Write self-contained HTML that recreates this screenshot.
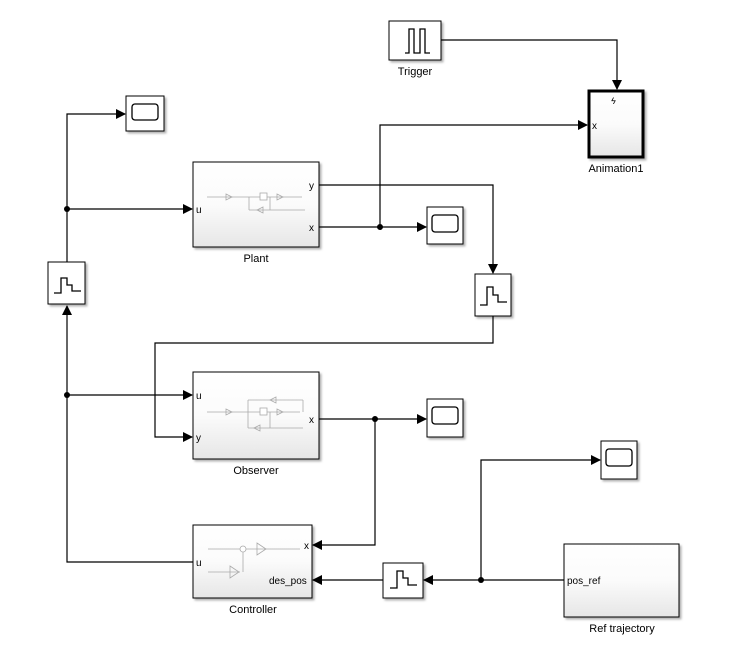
<!DOCTYPE html>
<html><head><meta charset="utf-8"><style>
html,body{margin:0;padding:0;background:#fff;}
svg{display:block;font-family:"Liberation Sans",Arial,sans-serif;}
</style></head><body>
<svg width="739" height="649" viewBox="0 0 739 649" xmlns="http://www.w3.org/2000/svg">
<defs>
<linearGradient id="g" x1="0" y1="0" x2="0" y2="1"><stop offset="0" stop-color="#fff"/><stop offset="0.5" stop-color="#fbfbfb"/><stop offset="1" stop-color="#e6e6e6"/></linearGradient>
<marker id="a" markerWidth="10" markerHeight="10" refX="9" refY="5" orient="auto" markerUnits="userSpaceOnUse"><path d="M0,0 L10,5 L0,10 z" fill="#000"/></marker>
<filter id="s" x="-10%" y="-10%" width="130%" height="130%"><feDropShadow dx="2" dy="2" stdDeviation="1" flood-color="#000" flood-opacity="0.3"/></filter>
</defs>
<g fill="none" stroke="#000" stroke-width="1.2">
<!-- left column -->
<polyline points="67,262 67,114 125,114" marker-end="url(#a)"/>
<line x1="67" y1="209" x2="192" y2="209" marker-end="url(#a)"/>
<polyline points="193,562 67,562 67,306" marker-end="url(#a)"/>
<line x1="67" y1="395" x2="192" y2="395" marker-end="url(#a)"/>
<!-- plant outputs -->
<polyline points="319,185 493,185 493,273" marker-end="url(#a)"/>
<line x1="319" y1="227" x2="426" y2="227" marker-end="url(#a)"/>
<polyline points="380,227 380,125 587,125" marker-end="url(#a)"/>
<polyline points="441,40 617,40 617,89" marker-end="url(#a)"/>
<polyline points="493,316 493,343 155,343 155,437 192,437" marker-end="url(#a)"/>
<!-- observer out -->
<line x1="319" y1="419" x2="426" y2="419" marker-end="url(#a)"/>
<polyline points="375,419 375,545 313,545" marker-end="url(#a)"/>
<!-- ref -->
<line x1="564" y1="580" x2="424" y2="580" marker-end="url(#a)"/>
<polyline points="481,580 481,460 600,460" marker-end="url(#a)"/>
<line x1="383" y1="580" x2="313" y2="580" marker-end="url(#a)"/>
</g>
<g fill="#000">
<circle cx="67" cy="209" r="3"/><circle cx="67" cy="395" r="3"/><circle cx="380" cy="227" r="3"/>
<circle cx="375" cy="419" r="3"/><circle cx="481" cy="580" r="3"/>
</g>
<!-- scopes -->
<g stroke="#000" stroke-width="1">
<g filter="url(#s)" fill="#fff">
<rect x="126" y="96" width="38" height="35"/>
<rect x="427" y="207" width="36" height="37"/>
<rect x="427" y="399" width="36" height="38"/>
<rect x="601" y="441" width="36" height="38"/>
<rect x="48" y="262" width="37" height="42"/>
<rect x="475" y="274" width="36" height="42"/>
<rect x="383" y="563" width="40" height="35"/>
<rect x="389" y="21" width="52" height="39"/>
</g>
<g fill="none" stroke-width="1.3">
<rect x="132" y="104" width="26" height="16" rx="3"/>
<rect x="432" y="215" width="26" height="17" rx="3"/>
<rect x="432" y="407" width="26" height="17" rx="3"/>
<rect x="606" y="449" width="26" height="17" rx="3"/>
<polyline points="54,293 61,293 61,278 67,278 67,285 72,285 72,291 81,291"/>
<polyline points="480,305 487,305 487,287 493,287 493,295 498,295 498,302 507,302"/>
<polyline points="390,588 397,588 397,571 403,571 403,578 408,578 408,585 417,585"/>
<polyline points="405,53 409,53 409,29 414,29 414,53 420,53 420,29 425,29 425,53 430,53"/>
</g>
<!-- subsystems -->
<g filter="url(#s)" fill="url(#g)">
<rect x="193" y="162" width="126" height="85"/>
<rect x="193" y="372" width="126" height="87"/>
<rect x="193" y="525" width="119" height="73"/>
<rect x="564" y="544" width="115" height="73"/>
</g>
<rect x="589" y="91" width="54" height="66" fill="url(#g)" stroke-width="3" filter="url(#s)"/>
</g>
<!-- faint internals -->
<g fill="none" stroke="#aaa" stroke-width="0.8">
<line x1="207" y1="197" x2="302" y2="197"/><line x1="249" y1="210" x2="305" y2="210"/><line x1="249" y1="197" x2="249" y2="210"/><line x1="270" y1="197" x2="270" y2="210"/>
<rect x="260" y="193" width="7" height="7" fill="#fff"/>
<path d="M226,194 l6,3 l-6,3z M277,194 l6,3 l-6,3z M263,207 l-6,3 l6,3z"/>
<line x1="207" y1="412" x2="300" y2="412"/><line x1="248" y1="400" x2="303" y2="400"/><line x1="248" y1="428" x2="303" y2="428"/>
<line x1="248" y1="400" x2="248" y2="428"/><line x1="303" y1="400" x2="303" y2="412"/><line x1="270" y1="412" x2="270" y2="428"/>
<rect x="260" y="408" width="7" height="7" fill="#fff"/>
<path d="M226,409 l6,3 l-6,3z M277,409 l6,3 l-6,3z M276,397 l-6,3 l6,3z M260,425 l-6,3 l6,3z"/>
<line x1="208" y1="549" x2="300" y2="549"/><line x1="208" y1="572" x2="240" y2="572"/><line x1="243" y1="549" x2="243" y2="572"/>
<circle cx="243" cy="549" r="3" fill="#fff"/>
<path d="M257,543 l9,6 l-9,6z M230,566 l9,6 l-9,6z"/>
</g>
<!-- labels -->
<g font-size="10" fill="#000">
<text x="196" y="213">u</text><text x="309" y="189">y</text><text x="309" y="231">x</text>
<text x="196" y="399">u</text><text x="196" y="441">y</text><text x="309" y="423">x</text>
<text x="196" y="566">u</text><text x="304" y="549">x</text><text x="269" y="584">des_pos</text>
<text x="567" y="584">pos_ref</text><text x="592" y="129">x</text>
<text x="611" y="104" font-size="9" font-style="italic">ϟ</text>
</g>
<g font-size="11" fill="#000" text-anchor="middle">
<text x="415" y="75">Trigger</text>
<text x="616" y="172">Animation1</text>
<text x="256" y="262">Plant</text>
<text x="256" y="474">Observer</text>
<text x="253" y="613">Controller</text>
<text x="622" y="632">Ref trajectory</text>
</g>
</svg>
</body></html>
